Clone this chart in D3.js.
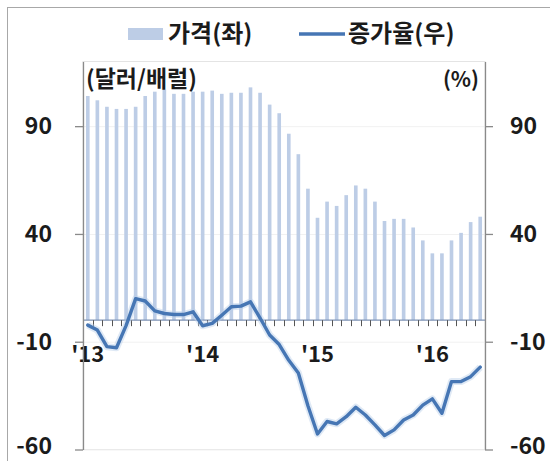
<!DOCTYPE html>
<html>
<head>
<meta charset="utf-8">
<script src="https://cdn.jsdelivr.net/npm/d3@7"></script>
<style>
  html, body { margin: 0; padding: 0; background: #fff; }
  svg { display: block; font-family: "Noto Sans CJK KR", "Noto Sans", sans-serif; }
</style>
</head>
<body>
<svg id="chart" width="550" height="461"></svg>
<script>
// Monthly categories, 2013.01 – 2016.06
const months = [
  "2013.01","2013.02","2013.03","2013.04","2013.05","2013.06","2013.07","2013.08","2013.09","2013.10","2013.11","2013.12",
  "2014.01","2014.02","2014.03","2014.04","2014.05","2014.06","2014.07","2014.08","2014.09","2014.10","2014.11","2014.12",
  "2015.01","2015.02","2015.03","2015.04","2015.05","2015.06","2015.07","2015.08","2015.09","2015.10","2015.11","2015.12",
  "2016.01","2016.02","2016.03","2016.04","2016.05","2016.06"
];

// Price, dollars per barrel (left axis)
const price = [
  104, 102, 99, 98, 98, 99, 104, 106, 107, 105, 105, 106,
  106, 106.5, 105, 105.5, 105.5, 108, 105.5, 100, 96, 86.5, 77, 61,
  47.5, 55, 53, 58, 62.5, 61, 55, 46, 47, 47, 43, 37,
  31, 31, 37, 40.5, 45.5, 48
];

// Year-on-year change, % (right axis)
const growth = [
  -2.3, -4.6, -12.3, -12.8, -2.5, 10, 8.9, 4.3, 3.1, 2.6, 2.6, 3.9,
  -2.6, -1.5, 2.3, 6.2, 6.5, 8.5, 1, -6.9, -11.3, -18.6, -24.5, -39.7,
  -52.8, -47, -48.1, -44.8, -40.4, -44, -48.6, -53.5, -50.9, -46.3, -44, -39.4,
  -36.5, -43.2, -28.5, -28.5, -26.2, -21.8
];

const yearTicks = ["2013.01", "2014.01", "2015.01", "2016.01"];
const yearLabels = ["'13", "'14", "'15", "'16"];
const valueTicks = [-60, -10, 40, 90];
const legendLabels = ["가격(좌)", "증가율(우)"];
const leftUnit = "(달러/배럴)";
const rightUnit = "(%)";

const W = 550, H = 461;
const plot = { left: 83, right: 485, top: 61.5, bottom: 449.5 };
const barColor = "#bdcde6";
const lineColor = "#4676b4";
const textColor = "#1b1b1b";
const axisColor = "#8a8a8a";

const svg = d3.select("#chart");

// outer frame
svg.append("rect")
  .attr("x", 7.5).attr("y", 7.5)
  .attr("width", W).attr("height", H)
  .attr("fill", "none").attr("stroke", "#a8a8a8");

const x = d3.scaleBand()
  .domain(months)
  .range([plot.left, plot.right])
  .paddingInner(0.62)
  .paddingOuter(0.31);

const yL = d3.scaleLinear().domain([-60, 120]).range([plot.bottom, plot.top]);
const yR = d3.scaleLinear().domain([-60, 120]).range([plot.bottom, plot.top]);

// plot area border
svg.append("rect")
  .attr("x", plot.left).attr("y", plot.top)
  .attr("width", plot.right - plot.left).attr("height", plot.bottom - plot.top)
  .attr("fill", "none").attr("stroke", "#e4e4e4");

// faint gridlines
svg.append("g").selectAll("line")
  .data(valueTicks)
  .join("line")
  .attr("x1", plot.left).attr("x2", plot.right)
  .attr("y1", d => yL(d) + 0.5).attr("y2", d => yL(d) + 0.5)
  .attr("stroke", "#f1f1f1");

// price bars
svg.append("g").selectAll("rect")
  .data(price)
  .join("rect")
  .attr("x", (d, i) => x(months[i]))
  .attr("width", x.bandwidth())
  .attr("y", d => yL(Math.max(0, d)))
  .attr("height", d => Math.abs(yL(d) - yL(0)))
  .attr("fill", barColor);

// category axis at zero
const y0 = yL(0);
svg.append("line")
  .attr("x1", plot.left).attr("x2", plot.right)
  .attr("y1", y0).attr("y2", y0)
  .attr("stroke", "#7f93b5").attr("stroke-width", 1.2);

const step = x.step();
const bounds = months.map(m => x(m) + x.bandwidth() / 2 - step / 2).concat([plot.right]);
svg.append("g").selectAll("line")
  .data(bounds)
  .join("line")
  .attr("x1", d => Math.round(d) + 0.5).attr("x2", d => Math.round(d) + 0.5)
  .attr("y1", y0).attr("y2", y0 + 6)
  .attr("stroke", "#555");

// year labels
const xAxis = d3.axisBottom(x)
  .tickValues(yearTicks)
  .tickSize(0)
  .tickPadding(26)
  .tickFormat(d => yearLabels[yearTicks.indexOf(d)]);
const gx = svg.append("g").attr("transform", `translate(0,${y0})`).call(xAxis);
gx.select(".domain").remove();
gx.selectAll("text")
  .attr("fill", textColor)
  .style("font-size", "22px")
  .style("font-weight", "bold")
  .style("font-family", "\"Noto Sans CJK KR\", sans-serif");

// value axes (plain hyphen for negatives)
function styleAxis(g) {
  g.select(".domain").attr("stroke", axisColor).attr("stroke-width", 1.3);
  g.selectAll(".tick line").attr("stroke", axisColor).attr("stroke-width", 1.3);
  g.selectAll("text")
    .attr("fill", textColor)
    .style("font-size", "23px")
    .style("font-weight", "bold")
    .style("font-family", "\"Noto Sans CJK KR\", sans-serif")
    // lowest label sits a little higher so it stays inside the frame
    .attr("dy", d => d === valueTicks[0] ? "0.18em" : "0.32em");
}
const fmt = d => String(d);

const gl = svg.append("g").attr("transform", `translate(${plot.left},0)`)
  .call(d3.axisLeft(yL).tickValues(valueTicks).tickFormat(fmt)
    .tickSize(8).tickSizeOuter(0).tickPadding(23));
styleAxis(gl);

const gr = svg.append("g").attr("transform", `translate(${plot.right},0)`)
  .call(d3.axisRight(yR).tickValues(valueTicks).tickFormat(fmt)
    .tickSize(8).tickSizeOuter(0).tickPadding(17));
styleAxis(gr);

// growth line
const line = d3.line()
  .x((d, i) => x(months[i]) + x.bandwidth() / 2)
  .y(d => yR(d));

svg.append("path")
  .datum(growth)
  .attr("d", line)
  .attr("fill", "none")
  .attr("stroke", "#b9cfe9")
  .attr("stroke-width", 7)
  .attr("stroke-opacity", 0.45)
  .attr("stroke-linejoin", "round");

svg.append("path")
  .datum(growth)
  .attr("d", line)
  .attr("fill", "none")
  .attr("stroke", lineColor)
  .attr("stroke-width", 3.4)
  .attr("stroke-linejoin", "round")
  .attr("stroke-linecap", "round");

// unit labels
svg.append("text")
  .attr("x", 86).attr("y", 87)
  .attr("fill", textColor)
  .style("font-size", "23px").style("font-weight", "bold")
  .text(leftUnit);
svg.append("text")
  .attr("x", 479).attr("y", 87)
  .attr("text-anchor", "end")
  .attr("fill", textColor)
  .style("font-size", "21px").style("font-weight", "bold")
  .text(rightUnit);

// legend
const legend = svg.append("g");
legend.append("rect")
  .attr("x", 128).attr("y", 28).attr("width", 35).attr("height", 12)
  .attr("fill", barColor);
legend.append("text")
  .attr("x", 168).attr("y", 42)
  .attr("fill", textColor)
  .style("font-size", "24px").style("font-weight", "bold")
  .text(legendLabels[0]);
legend.append("line")
  .attr("x1", 299).attr("x2", 345)
  .attr("y1", 34).attr("y2", 34)
  .attr("stroke", lineColor).attr("stroke-width", 3.4);
legend.append("text")
  .attr("x", 348).attr("y", 42)
  .attr("fill", textColor)
  .style("font-size", "24px").style("font-weight", "bold")
  .text(legendLabels[1]);
</script>
</body>
</html>
